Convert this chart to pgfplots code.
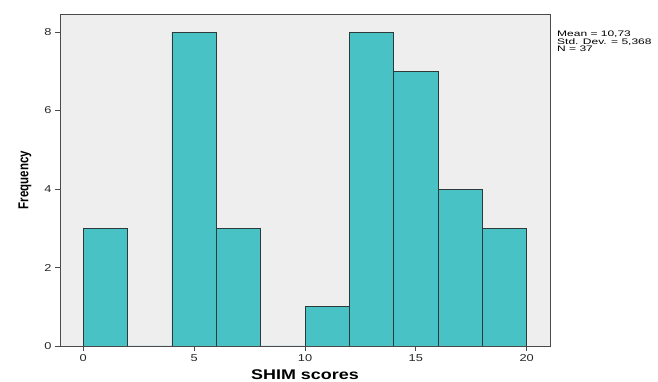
\documentclass[border=0pt]{standalone}
\usepackage{fontspec}
\setmainfont{Liberation Sans}
\usepackage{graphicx}
\usepackage{pgfplots}
\pgfplotsset{compat=1.18}
\definecolor{barfill}{HTML}{48C2C5}
\definecolor{bg}{HTML}{EEEEEE}
\definecolor{framec}{HTML}{4A4A4A}
\definecolor{edgec}{HTML}{2E3A3A}
\newcommand{\stretchA}[1]{\scalebox{1.28}[1]{#1}}
\newcommand{\stretchB}[1]{\scalebox{1.5}[1]{#1}}
\begin{document}
\begin{tikzpicture}[x=1pt,y=1pt]
\useasboundingbox (-60,-36) rectangle (598,346);
\begin{axis}[
  at={(0,0)}, anchor=south west,
  scale only axis, width=490pt, height=332pt,
  xmin=-1.05, xmax=21.05, ymin=0, ymax=8.46,
  clip mode=individual,
  axis background/.style={fill=bg},
  axis line style={framec, line width=0.9pt},
  axis on top,
  xtick={0,5,10,15,20}, ytick={0,2,4,6,8},
  tick pos=left, tick align=outside, major tick length=5pt,
  tick style={framec, line width=0.8pt},
  /pgf/number format/assume math mode=true,
  xticklabel={\stretchA{\pgfmathprintnumber{\tick}}},
  yticklabel={\stretchA{\pgfmathprintnumber{\tick}}},
  tick label style={font=\fontsize{10}{11}\selectfont, text=black!85},
  every axis x label/.style={at={(axis description cs:0.5,0)}, yshift=-29pt, anchor=center},
  every axis y label/.style={at={(axis description cs:0,0.5)}, xshift=-35pt, rotate=90, anchor=center},
  xlabel={\fontsize{14}{16}\selectfont\stretchA{\bfseries SHIM scores}},
  ylabel={\fontsize{11.5}{13}\selectfont\scalebox{1}[1.25]{\bfseries Frequency}},
]
\addplot[ybar interval, fill=barfill, draw=edgec, line width=0.9pt]
  coordinates {(0,3) (2,0) (4,8) (6,3) (8,0) (10,1) (12,8) (14,7) (16,4) (18,3) (20,3)};
\node[anchor=north west, inner sep=0pt, align=left, font=\fontsize{8}{6.7}\selectfont]
  at (rel axis cs:1,1) [xshift=7pt, yshift=-17pt]
  {\stretchB{Mean = 10,73}\\\stretchB{Std. Dev. = 5,368}\\\stretchB{N = 37}};
\end{axis}
\end{tikzpicture}
\end{document}
